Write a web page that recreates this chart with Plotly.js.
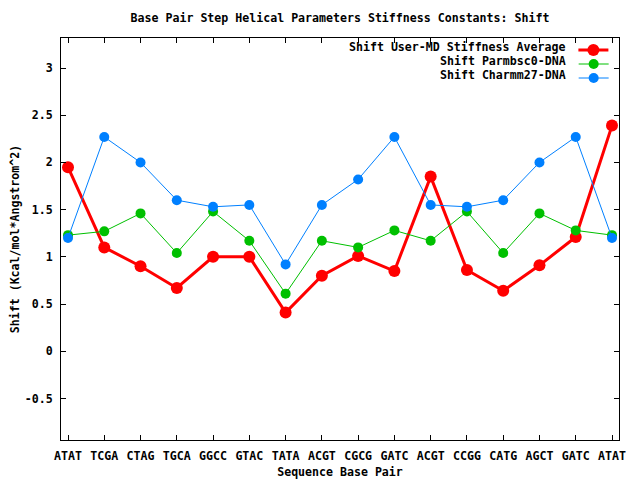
<!DOCTYPE html>
<html>
<head>
<meta charset="utf-8">
<script src="https://cdn.plot.ly/plotly-3.0.1.min.js"></script>
<style>html,body{margin:0;padding:0;background:#fff;}#chart{width:640px;height:480px;}</style>
</head>
<body>
<div id="chart"></div>
<script>
const categories = ["ATAT","TCGA","CTAG","TGCA","GGCC","GTAC","TATA","ACGT","CGCG","GATC","ACGT","CCGG","CATG","AGCT","GATC","ATAT"];
const userMD = [1.95,1.10,0.90,0.67,1.00,1.00,0.41,0.80,1.01,0.85,1.85,0.86,0.64,0.91,1.21,2.39];
const parmbsc0 = [1.23,1.27,1.46,1.04,1.48,1.17,0.61,1.17,1.10,1.28,1.17,1.48,1.04,1.46,1.28,1.23];
const charmm27 = [1.20,2.27,2.00,1.60,1.53,1.55,0.92,1.55,1.82,2.27,1.55,1.53,1.60,2.00,2.27,1.20];
const seriesNames = ["Shift User-MD Stiffness Average","Shift Parmbsc0-DNA","Shift Charmm27-DNA"];
const yTickVals = [-0.5,0,0.5,1,1.5,2,2.5,3];
const yTickText = ["-0.5","0","0.5","1","1.5","2","2.5","3"];

const FONT = "DejaVu Sans Mono";
const idx = categories.map((_, i) => i);

// Each series gets its own legend; the series name is shown as that legend's
// title on the left of the sample, as in the reference.
const traces = [
  {x: idx, y: userMD, name: "", legend: "legend", mode: "lines+markers",
   line: {color: "#ff0000", width: 3}, marker: {color: "#ff0000", size: 12}},
  {x: idx, y: parmbsc0, name: "", legend: "legend2", mode: "lines+markers",
   line: {color: "#00c000", width: 1}, marker: {color: "#00c000", size: 10}},
  {x: idx, y: charmm27, name: "", legend: "legend3", mode: "lines+markers",
   line: {color: "#0080ff", width: 1}, marker: {color: "#0080ff", size: 10}}
];

const legendY = [50, 64, 78].map(p => (440 - p) / 402);

function leg(title, y) {
  return {
    title: {text: title, side: "left", font: {family: FONT, size: 11.6, color: "#000", weight: "bold"}},
    x: 1, xanchor: "right", y: y, yanchor: "middle",
    bgcolor: "rgba(0,0,0,0)", borderwidth: 0,
    font: {family: FONT, size: 11.6}, itemwidth: 30
  };
}

const layout = {
  width: 640, height: 480,
  margin: {l: 61, r: 21, t: 38, b: 40},
  paper_bgcolor: "#fff", plot_bgcolor: "#fff",
  font: {family: FONT, size: 11.6, color: "#000", weight: "bold"},
  title: {text: "Base Pair Step Helical Parameters Stiffness Constants: Shift",
          x: 0.5, xref: "paper", y: 1 - 18/480, yref: "container", yanchor: "middle",
          font: {family: FONT, size: 11.6, color: "#000", weight: "bold"}},
  showlegend: true,
  legend: leg(seriesNames[0], legendY[0]),
  legend2: leg(seriesNames[1], legendY[1]),
  legend3: leg(seriesNames[2], legendY[2]),
  xaxis: {
    range: [-0.193, 15.193], tickmode: "array", tickvals: idx, ticktext: categories,
    ticks: "inside", ticklen: 5, tickwidth: 1, tickcolor: "#000",
    showline: true, linecolor: "#000", linewidth: 1, mirror: "allticks",
    showgrid: false, zeroline: false, ticklabelstandoff: 5,
    tickfont: {family: FONT, size: 11.6, weight: "bold"},
    title: {text: "Sequence Base Pair", standoff: 5, font: {family: FONT, size: 11.6, weight: "bold"}}
  },
  yaxis: {
    range: [-0.94, 3.318], tickmode: "array", tickvals: yTickVals, ticktext: yTickText,
    ticks: "inside", ticklen: 5, tickwidth: 1, tickcolor: "#000",
    showline: true, linecolor: "#000", linewidth: 1, mirror: "allticks",
    showgrid: false, zeroline: false, ticklabelstandoff: 5,
    tickfont: {family: FONT, size: 11.6, weight: "bold"},
    title: {text: "Shift (Kcal/mol*Angstrom^2)", standoff: 2, font: {family: FONT, size: 11.6, weight: "bold"}}
  },
  hovermode: false
};

Plotly.newPlot("chart", traces, layout, {staticPlot: true, displayModeBar: false});
</script>
</body>
</html>
